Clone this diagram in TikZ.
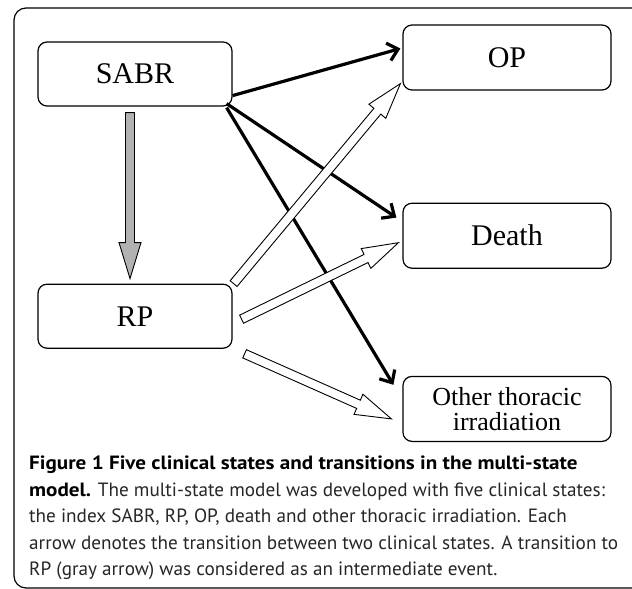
\documentclass[tikz,border=0pt]{standalone}
\usepackage{fontspec}
\setmainfont{Liberation Serif}
\newfontfamily\captionfont{PT Sans}[BoldFeatures={FakeStretch=1.1}]
\usetikzlibrary{positioning,calc,arrows.meta}

\tikzset{
    state/.style={rectangle, draw, rounded corners=9pt, line width=1.2pt,
        minimum width=194pt, minimum height=64pt, inner sep=0pt,
        font=\fontsize{30}{32}\selectfont},
    wide/.style={minimum width=208pt, minimum height=65pt},
    thickarrow/.style={line width=3.2pt, -{Straight Barb[length=10pt, width=18pt]}},
    blockline/.style={line width=0.9pt, line join=miter},
    caption/.style={inner sep=0pt, align=left, text=black!85,
        font=\captionfont\fontsize{19.2}{26.5}\selectfont}
}

% block arrow from #2 to #3, filled with #1
\newcommand{\blockarrow}[3]{%
    \coordinate (ba-head) at ($(#3)!36pt!(#2)$);
    \draw [blockline, fill=#1] ($(#2)!4.5pt!90:(#3)$) -- ($(ba-head)!4.5pt!90:(#3)$)
        -- ($(ba-head)!11pt!90:(#3)$) -- (#3) -- ($(ba-head)!11pt!-90:(#3)$)
        -- ($(ba-head)!4.5pt!-90:(#3)$) -- ($(#2)!4.5pt!-90:(#3)$) -- cycle;
}

\begin{document}
\begin{tikzpicture}[
                        x=1pt, y=-1pt,
                        >=Straight Barb
                    ]
                    \useasboundingbox (0,0) rectangle (632,589);
                    % Frame
                    \draw [line width=1.2pt, rounded corners=12pt] (700,8) -- (14,8) -- (14,588) -- (700,588);

                    % Blocks
                    \node [state] (sabr) at (135,74) {SABR};
                    \node [state, below=177pt of sabr] (rp) {RP};
                    \node [state, wide] (op) at (507,57.5) {OP};
                    \node [state, wide, below=112pt of op] (death) {Death};
                    \node [state, wide, below=107pt of death, align=center,
                           font=\fontsize{26}{25}\selectfont] (other) {Other thoracic\\irradiation};

                    % Connections
                    \draw [thickarrow] ($(sabr.south east)+(0,-11)$) -- ($(op.west)+(-2,-9)$);
                    \draw [thickarrow] ($(sabr.south east)+(-6,-3)$) -- ($(death.north west)+(-6,15)$);
                    \draw [thickarrow] ($(sabr.south east)+(-6,1)$) -- ($(other.north west)+(-9,9)$);

                    \coordinate (sabr-rp-a) at ($(sabr.south)+(-5,6)$);
                    \coordinate (sabr-rp-b) at ($(rp.north)+(-5,-5)$);
                    \coordinate (rp-op-a) at ($(rp.north east)+(1,0)$);
                    \coordinate (rp-op-b) at ($(op.south west)+(-2,-7)$);
                    \coordinate (rp-death-a) at ($(rp.east)+(9,3)$);
                    \coordinate (rp-death-b) at ($(death.west)+(-4,7)$);
                    \coordinate (rp-other-a) at ($(rp.south east)+(12,5)$);
                    \coordinate (rp-other-b) at ($(other.west)+(-11,10)$);

                    \blockarrow{black!30}{sabr-rp-a}{sabr-rp-b}
                    \blockarrow{white}{rp-op-a}{rp-op-b}
                    \blockarrow{white}{rp-death-a}{rp-death-b}
                    \blockarrow{white}{rp-other-a}{rp-other-b}

                    % Caption
                    \node [caption, anchor=north west] (cap) at (29,456) {%
                        \textcolor{black}{\textbf{Figure 1 Five clinical states and transitions in the multi-state}}\\
                        \textcolor{black}{\textbf{model.}} The multi-state model was developed with five clinical states:\\
                        the index SABR, RP, OP, death and other thoracic irradiation. Each\\
                        arrow denotes the transition between two clinical states. A transition to\\
                        RP (gray arrow) was considered as an intermediate event.};
                \end{tikzpicture}
\end{document}
